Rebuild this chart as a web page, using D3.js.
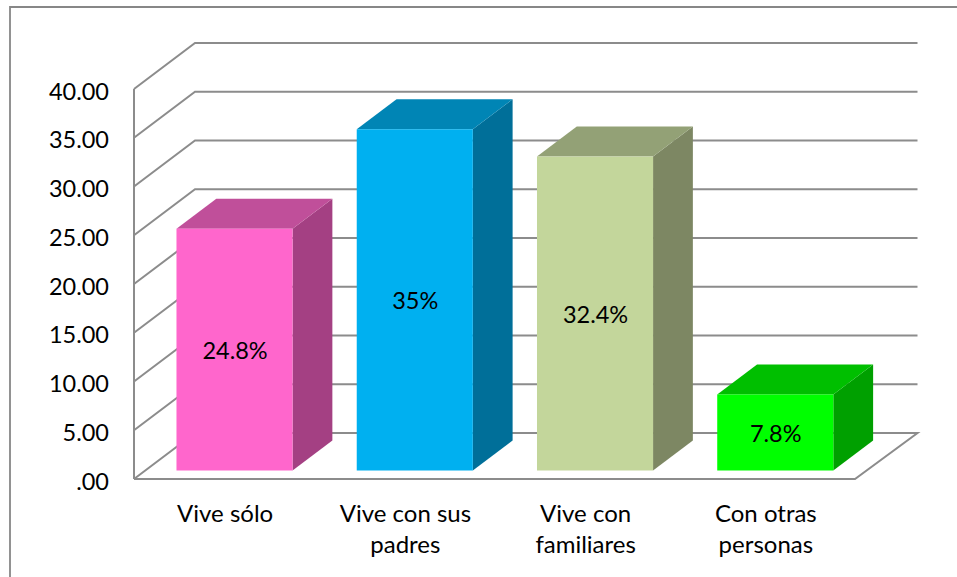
<!DOCTYPE html>
<html><head><meta charset="utf-8">
<script src="https://cdn.jsdelivr.net/npm/d3@7"></script>
<style>html,body{margin:0;padding:0;background:#fff;overflow:hidden}svg{display:block}text{font-family:Lato,"Open Sans",sans-serif;fill:#000}</style>
</head><body><svg id="c" width="957" height="577"></svg>
<script>
const categories = [["Vive sólo"],["Vive con sus","padres"],["Vive con","familiares"],["Con otras","personas"]];
const values = [24.8,35,32.2,7.8];
const valueLabels = ["24.8%","35%","32.4%","7.8%"];
const ticks = [0,5,10,15,20,25,30,35,40];
const tickLabels = [".00","5.00","10.00","15.00","20.00","25.00","30.00","35.00","40.00"];
const frontColors = ["#ff66cc","#00b0f0","#c3d69b","#00ff00"];
const topColors = ["#c04f9a","#0085b5","#93a176","#00bf00"];
const sideColors = ["#a44083","#006f99","#7d8763","#00a000"];

const svg = d3.select("#c");
const y = d3.scaleLinear().domain([0,40]).range([479,89]);
const x = d3.scaleBand().domain(categories.map((d,i)=>i)).range([134,855]).paddingInner(0.356).paddingOuter(0.178);
const wall = {dx:61,dy:-46}, bar = {dx:39.8,dy:-30}, inset = {dx:10.4,dy:-8.5};
const grey = "#8c8c8c";
const line = d3.line();

// outer frame: only its top and left edges fall inside the picture
svg.append("path").attr("d",line([[10,577],[10,7],[957,7]]))
  .attr("fill","none").attr("stroke","#878787").attr("stroke-width",1.8);

svg.append("g").selectAll("path").data(ticks.slice(1)).join("path")
  .attr("d",d=>line([[134,y(d)],[134+wall.dx,y(d)+wall.dy],[855+wall.dx+1.5,y(d)+wall.dy]]))
  .attr("fill","none").attr("stroke",grey).attr("stroke-width",2);
svg.append("path").attr("d",line([[134,y(0)],[134+wall.dx,y(0)+wall.dy],[855+wall.dx+1.5,y(0)+wall.dy],[855,y(0)],[134,y(0)]]))
  .attr("fill","none").attr("stroke",grey).attr("stroke-width",2);
svg.append("path").attr("d",line([[134,y(0)],[134,y(40)]])).attr("fill","none").attr("stroke",grey).attr("stroke-width",2);

const bars = svg.append("g").selectAll("g").data(values).join("g");
const bw = x.bandwidth();
const X0 = (d,i)=>x(i)+inset.dx, Y0 = d=>y(0)+inset.dy, YT = d=>y(d)+inset.dy;
bars.append("path").attr("fill",(d,i)=>sideColors[i]).attr("d",(d,i)=>{
  const a=X0(d,i)+bw;return line([[a,Y0(d)],[a,YT(d)],[a+bar.dx,YT(d)+bar.dy],[a+bar.dx,Y0(d)+bar.dy]])+"Z";});
bars.append("path").attr("fill",(d,i)=>topColors[i]).attr("d",(d,i)=>{
  const a=X0(d,i);return line([[a,YT(d)],[a+bw,YT(d)],[a+bw+bar.dx,YT(d)+bar.dy],[a+bar.dx,YT(d)+bar.dy]])+"Z";});
bars.append("rect").attr("fill",(d,i)=>frontColors[i]).attr("x",X0).attr("y",YT).attr("width",bw).attr("height",d=>y(0)-y(d));
bars.append("text").attr("x",(d,i)=>X0(d,i)+bw/2+0.5).attr("y",d=>(YT(d)+Y0(d))/2+9.5).attr("text-anchor","middle")
  .attr("font-size",23.5).text((d,i)=>valueLabels[i]);

svg.append("g").selectAll("text").data(ticks).join("text")
  .attr("x",109).attr("y",d=>y(d)+10.5).attr("text-anchor","end").attr("font-size",23.5)
  .text((d,i)=>tickLabels[i]);

svg.append("g").selectAll("text").data(categories).join("text")
  .attr("text-anchor","middle").attr("font-size",24)
  .each(function(d,i){
    d3.select(this).selectAll("tspan").data(d).join("tspan")
      .attr("x",x(i)+bw/2+1).attr("y",(t,j)=>522+j*31).text(t=>t);
  });
</script></body></html>
